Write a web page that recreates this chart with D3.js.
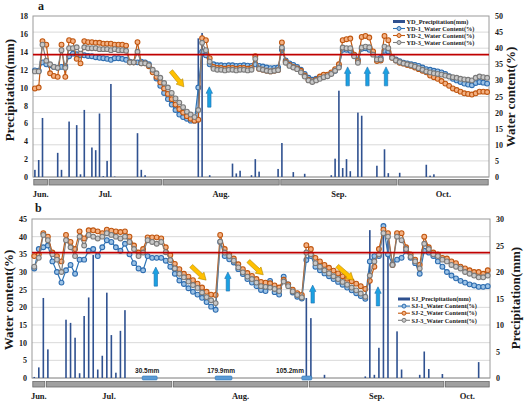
<!DOCTYPE html>
<html><head><meta charset="utf-8">
<script src="https://cdn.jsdelivr.net/npm/d3@7/dist/d3.min.js"></script>
<style>
html,body{margin:0;padding:0;background:#fff;}
svg{display:block;}
text{font-family:"Liberation Serif","Times New Roman",serif;font-weight:bold;fill:#1a1a1a;}
</style></head><body>
<svg id="chart" width="524" height="404"></svg>
<script>
// ---------------- DATA ----------------
const monthNames = ["Jun.","Jul.","Aug.","Sep.","Oct."];
const monthDaysA = [4,30,31,31,24];
const monthDaysB = [3,28,30,30,10];

const tickPrecA = [0,2,4,6,8,10,12,14,16,18];
const tickWcA = [0,5,10,15,20,25,30,35,40,45,50];
const tickWcB = [0,5,10,15,20,25,30,35,40,45];
const tickPrecB = [0,5,10,15,20,25,30];

const refLineA = 38;   // water content %
const refLineB = 35.5;

const precipA = [0.8,1.9,6.6,0,0,0,2.7,0.8,0,6.2,
 0,5.8,0.3,7.5,0,3.3,3.0,7.1,0.1,1.8,
 10.4,0.05,0,0,0,0,0,4.9,0.8,0.2,
 0,0,0,0,0,0,0,0,0,0,
 0,0,0,15.5,16.1,0,0.2,0,0,0,
 0,0,1.5,0.4,0.7,0,0,0.2,2.0,0.6,
 0,0,0,0,0.9,3.8,0,0,0.55,0,
 0,0.36,0,0,0,0,0,0,0.2,2.05,
 9.65,1.0,2.0,0.65,0,7.2,6.85,0,0,0,
 1.26,0,3.1,0.43,0,0,0.47,0,0,0,
 0,0,0,1.37,0.15,0.3,0,0,0,0,
 0,0,0,0,0,0,0,0,0,0];

const yd1 = [33.1,33.0,35.6,35.0,34.7,34.2,33.9,34.2,34.4,37.5,
 38.3,38.1,37.8,37.8,37.6,37.5,37.2,37.0,36.9,36.7,
 36.4,36.9,36.9,36.7,36.4,35.8,35.6,35.6,35.8,35.6,
 35.0,32.8,30.6,28.3,26.1,24.2,22.5,20.8,19.4,18.6,
 18.1,17.5,17.5,27.8,38.9,37.8,35.0,35.0,34.7,34.7,
 34.6,34.7,34.7,34.5,34.6,34.7,34.6,34.5,35.0,34.5,
 34.3,34.0,33.8,33.9,34.0,39.5,36.2,35.3,34.8,34.2,
 33.3,32.0,30.8,30.2,30.5,31.0,31.5,31.5,32.2,33.0,
 34.5,39.5,39.5,39.2,38.0,36.5,39.8,40.0,39.5,38.5,
 36.5,37.0,39.2,39.0,37.3,36.5,36.0,35.5,35.3,35.0,
 34.8,34.5,34.0,33.5,33.3,33.0,32.8,32.5,32.0,31.3,
 30.5,30.0,29.5,29.0,28.7,28.5,29.2,29.5,29.3,29.0];

const yd2 = [27.5,27.8,42.2,41.1,32.2,31.4,31.1,41.1,31.1,42.5,
 42.2,36.7,35.3,42.2,41.9,41.9,41.7,41.7,41.4,41.4,
 41.4,41.1,41.1,41.1,40.8,35.6,35.6,41.9,35.3,35.3,
 34.4,32.5,31.1,29.4,27.5,25.8,24.2,22.5,21.1,20.0,
 18.9,18.1,17.5,17.8,43.1,42.5,36.9,34.2,33.9,33.9,
 33.6,33.9,33.9,33.6,33.9,33.9,33.6,33.9,37.5,33.6,
 33.3,33.0,32.8,33.0,33.2,41.8,35.8,34.8,34.2,33.7,
 33.0,31.5,30.2,29.7,30.2,31.2,31.8,31.8,32.5,33.5,
 35.0,42.5,42.8,43.0,38.0,36.0,43.5,43.8,43.3,39.0,
 36.0,36.2,43.8,42.5,37.0,36.2,35.5,35.2,34.8,34.5,
 34.0,33.5,33.0,32.5,31.5,31.0,30.5,29.8,29.0,28.3,
 27.5,27.0,26.5,26.0,25.8,25.6,26.0,26.5,26.5,26.4];

const yd3 = [32.8,32.8,41.1,36.1,35.0,34.2,33.9,39.4,33.9,40.0,
 40.0,40.3,38.3,40.3,40.0,40.0,40.0,39.7,39.7,39.7,
 39.4,39.7,39.4,39.4,39.2,35.6,35.6,38.9,35.3,35.3,
 34.7,33.3,32.2,30.8,29.2,27.8,26.1,24.4,23.1,21.7,
 20.3,19.4,18.6,20.8,41.7,39.4,35.8,33.6,33.3,33.3,
 33.1,33.3,33.3,33.1,33.3,33.3,33.1,33.3,36.7,33.6,
 33.3,33.0,32.8,33.0,33.2,40.2,35.5,34.5,34.0,33.5,
 32.5,31.2,30.0,29.5,30.0,30.5,31.0,31.3,32.0,33.0,
 34.0,40.2,40.0,40.0,37.5,35.5,40.2,40.5,40.3,38.0,
 36.5,36.5,40.5,40.0,37.0,36.2,35.7,35.3,35.0,34.7,
 34.3,33.8,33.3,32.8,32.5,32.2,32.0,31.8,31.5,31.2,
 31.0,30.8,30.5,30.3,30.2,30.0,30.8,31.2,31.0,30.8];

const precipB = [0.2,2.0,15.1,5.4,0,0,0,11.0,10.4,7.6,
 0.9,11.7,15.2,23.2,1.6,4.2,16.1,8.1,1.0,8.9,
 12.8,0,0,0,0,0,0,0,0,0,
 0,0,0,0,0,0,0,0,0,0,
 0,0,0,0,0,0,0,0,0,0,
 0,0,0,0,0,0,0,0,0,0,
 15.1,11.3,0,0,0.6,0,0,0,0,0,
 0,0,0,0.3,27.9,0.6,5.7,28,26,0,
 8.8,1.6,0,0,0,0.6,5.0,1.7,0,0,
 0.75,0,0,0,0,0,0,0,3.0,0,
 0];

const sj1 = [31,36.5,37,37.5,33,30,27,30.5,32,29.5,
 33.5,33.5,36,36.5,34.5,37,39,38.5,37,36,
 38,35,32.5,31,30.5,34.5,34,34,34,33.2,
 31.5,29.5,27.6,26.6,25.4,24.4,23.6,22.7,21.5,20.2,
 19.3,38.5,34.5,33.6,32.7,30.8,29.4,28,27,26,
 24.9,24.6,27.5,24.3,23.6,28.7,26.5,24.2,23,22.5,
 33.4,34.5,31.5,30.5,29.6,28.8,28,27.2,26.4,25.6,
 24.8,24,23.2,22.4,33,34.5,34.5,43,35,32.2,
 33.5,34,36,34,32.5,29.5,36,35.5,34.5,33,
 31.5,30,29,28.2,27.5,27,26.5,26.2,25.8,25.8,
 26];

const sj2 = [34.5,35,41,40,35.5,34.5,33,40.5,38.5,36.5,
 41.5,39.5,41.8,41.8,41.5,41,42,41.7,41.5,41.3,
 41.5,40,37.5,35.5,36.5,39.8,39.8,39.8,39.5,37,
 34.8,32.3,30.8,29.5,28.7,27.7,26.7,25.6,24.4,23.6,
 23.5,40.5,36.5,35,33.8,32.2,30.8,29.7,28.9,28,
 27.2,27,26.8,26.2,25.6,27.8,26.5,25,24,23.5,
 37.6,36.5,34,33,32,31.2,30.4,29.6,28.8,28.1,
 27.4,26.7,26,25.2,27.5,31.5,36.5,42,41,32,
 41,41,37,35,33.5,32,40,37,35.5,35,
 34,33.8,33,32.5,31.5,31,30.5,30,30,29.5,
 30.5];

const sj3 = [31.5,34,40.5,39,35,33.5,30,39,37,34.5,
 40,37.5,40.5,40,39.5,40,41,40.5,40,39.5,
 40,38.5,36.5,34.5,35.5,39,38.5,38,38.5,35.6,
 33.4,31,29.5,28.5,27.3,26.3,25.5,24.2,22.9,22,
 21.2,38.6,35.5,34.5,33.2,31.3,29.9,28.7,28,27,
 26,25.8,25.6,25.2,24.6,27.3,26,24.5,23.5,22.8,
 35.5,35,32.5,31.5,30.5,29.6,28.8,28,27.2,26.4,
 25.6,24.8,23.9,23,29,33,35,41,40,32,
 40,39,36.5,34.3,33,31,38,36.5,35,34.5,
 33.5,33,32,31.5,31,30,29.5,29,28.5,28.5,
 29];

// annotation arrows (day index, water content %)
const upArrowsA = [{d:45.9,v0:21.7,v1:28.0},{d:82.3,v0:28.3,v1:34.2},{d:87.5,v0:28.3,v1:34.2},{d:92.4,v0:28.3,v1:34.2}];
const downArrowsA = [{d0:35.8,v0:32.9,d1:39.2,v1:28.0}];
const upArrowsB = [{d:26.8,v0:26.0,v1:31.4},{d:42.7,v0:24.6,v1:30.0},{d:61.4,v0:21.2,v1:26.3},{d:75.8,v0:20.4,v1:25.8}];
const downArrowsB = [{d0:34.6,v0:31.7,d1:37.9,v1:27.7},{d0:47.2,v0:33.1,d1:50.5,v1:29.2},{d0:66.8,v0:31.7,d1:70.4,v1:27.7}];
const notesB = [{label:"30.5mm",d0:24.3,d1:27.6,td:25.4},{label:"179.9mm",d0:40.4,d1:44.1,td:41.7},{label:"105.2mm",d0:59.5,d1:61.7,td:56.9}];

// ---------------- DRAW ----------------
const svg = d3.select("#chart");
const STY = {
  blue:  {line:"#2e75b6", fill:"#9dc3e6", stroke:"#2e6db0"},
  orange:{line:"#c55a11", fill:"#f4b183", stroke:"#c0560f"},
  gray:  {line:"#7f7f7f", fill:"#c9c9c9", stroke:"#7a7a7a"}
};
const BAR = "#2f5190";

function blockArrow(g, x1, y1, x2, y2, sw, hw, hl, fill, stroke) {
  const dx = x2-x1, dy = y2-y1, L = Math.hypot(dx,dy);
  const ux = dx/L, uy = dy/L, nx = -uy, ny = ux;
  const bx = x2-ux*hl, by = y2-uy*hl;
  const pts = [
    [x1+nx*sw/2, y1+ny*sw/2],[bx+nx*sw/2, by+ny*sw/2],[bx+nx*hw/2, by+ny*hw/2],
    [x2,y2],[bx-nx*hw/2, by-ny*hw/2],[bx-nx*sw/2, by-ny*sw/2],[x1-nx*sw/2, y1-ny*sw/2]];
  g.append("polygon").attr("points", pts.map(p=>p.join(",")).join(" "))
    .attr("fill", fill).attr("stroke", stroke).attr("stroke-width", 0.6);
}

function drawPanel(o) {
  const g = svg.append("g");
  const n = o.series[0].vals.length;
  const x = d3.scaleLinear().domain([0, n]).range([o.x0, o.x1]);
  const cx = i => x(i + 0.5);
  const yW = d3.scaleLinear().domain([0, o.wcMax]).range([o.yBot, o.yTop]);
  const yP = d3.scaleLinear().domain([0, o.pMax]).range([o.yBot, o.yTop]);

  // gridlines
  g.selectAll(".grid").data(o.wcTicks.filter(t => t > 0 && t < o.wcMax)).join("line")
    .attr("x1", o.x0).attr("x2", o.x1).attr("y1", d => yW(d)).attr("y2", d => yW(d))
    .attr("stroke", "#d9d9d9").attr("stroke-width", 1);
  g.append("line").attr("x1",o.x0).attr("x2",o.x1).attr("y1",yW(0)).attr("y2",yW(0))
    .attr("stroke","#bfbfbf");
  g.append("rect").attr("x", o.x0).attr("y", o.yTop).attr("width", o.x1-o.x0)
    .attr("height", o.yBot-o.yTop).attr("fill", "none").attr("stroke", "#9a9a9a").attr("stroke-width", 1);

  // precipitation bars
  g.selectAll(".bar").data(o.precip.map((v,i)=>({v,i})).filter(d=>d.v>0)).join("rect")
    .attr("x", d => cx(d.i)-0.8).attr("width", 1.6)
    .attr("y", d => yP(d.v)).attr("height", d => yP(0)-yP(d.v)).attr("fill", BAR);

  // water content series
  o.series.forEach(s => {
    const st = STY[s.c];
    const line = d3.line().x((d,i)=>cx(i)).y(d=>yW(d));
    g.append("path").datum(s.vals).attr("d", line).attr("fill","none")
      .attr("stroke", st.line).attr("stroke-width", 1.2);
    g.append("g").selectAll("circle").data(s.vals).join("circle")
      .attr("cx",(d,i)=>cx(i)).attr("cy",d=>yW(d)).attr("r",2.4)
      .attr("fill", st.fill).attr("stroke", st.stroke).attr("stroke-width", 1.1);
  });

  // reference line
  g.append("line").attr("x1",o.x0).attr("x2",o.x1).attr("y1",yW(o.ref)).attr("y2",yW(o.ref))
    .attr("stroke","#c00000").attr("stroke-width",1.8);

  // arrows
  o.up.forEach(a => blockArrow(g, cx(a.d), yW(a.v0), cx(a.d), yW(a.v1), 3.4, 6.4, 6.5, "#1ba1e2", "#1f6fae"));
  o.down.forEach(a => blockArrow(g, cx(a.d0), yW(a.v0), cx(a.d1), yW(a.v1), 4.2, 8.5, 7, "#ffc000", "#b38600"));

  // notes
  (o.notes||[]).forEach(t => {
    g.append("rect").attr("x", x(t.d0)).attr("y", yP(0)-2).attr("width", x(t.d1)-x(t.d0)).attr("height", 4)
      .attr("rx",1).attr("fill","#5b9bd5").attr("stroke","#2e75b6").attr("stroke-width",0.6);
    g.append("text").attr("x", x(t.td)).attr("y", yP(0)-5).attr("text-anchor","middle")
      .style("font-family","'Liberation Sans',Arial,sans-serif").style("font-size","6.5px").text(t.label);
  });

  // axes
  const leftScale = o.precipLeft ? yP : yW, rightScale = o.precipLeft ? yW : yP;
  const leftTicks = o.precipLeft ? o.pTicks : o.wcTicks, rightTicks = o.precipLeft ? o.wcTicks : o.pTicks;
  const la = g.append("g").attr("transform",`translate(${o.x0},0)`)
    .call(d3.axisLeft(leftScale).tickValues(leftTicks).tickSize(0).tickPadding(5).tickFormat(d3.format("d")));
  const ra = g.append("g").attr("transform",`translate(${o.x1},0)`)
    .call(d3.axisRight(rightScale).tickValues(rightTicks).tickSize(0).tickPadding(6).tickFormat(d3.format("d")));
  [la, ra].forEach(a => {
    a.select(".domain").remove();
    a.selectAll("text").style("font-size","8px").style("font-family","'Liberation Serif',serif").attr("fill","#1a1a1a");
  });

  // month band
  let start = 0;
  o.months.forEach((m, k) => {
    const end = start + o.monthDays[k];
    g.append("rect").attr("x", x(start)+0.8).attr("y", o.bandY).attr("width", x(end)-x(start)-1.6)
      .attr("height", 5.5).attr("fill", "#a0a0a0").attr("stroke", "#6a6a6a").attr("stroke-width", 0.8);
    g.append("text").attr("x", (x(start)+x(end))/2).attr("y", o.bandY+17).attr("text-anchor","middle")
      .style("font-size","8.5px").text(m);
    start = end;
  });

  // titles
  g.append("text").attr("transform",`translate(${o.lt.x},${o.lt.y}) rotate(-90)`).attr("text-anchor","middle")
    .style("font-size","13px").text(o.lt.t);
  g.append("text").attr("transform",`translate(${o.rt.x},${o.rt.y}) rotate(-90)`).attr("text-anchor","middle")
    .style("font-size","13px").text(o.rt.t);
  g.append("text").attr("x", o.lab.x).attr("y", o.lab.y).style("font-size","12px").text(o.lab.t);

  // legend
  const lg = g.append("g");
  o.legend.items.forEach((it, k) => {
    const y = o.legend.y + k*o.legend.dy;
    const x0 = o.legend.x;
    if (it.c === "bar") {
      lg.append("rect").attr("x", x0).attr("y", y-1.5).attr("width", 12).attr("height", 3).attr("fill", BAR);
    } else {
      const st = STY[it.c];
      lg.append("line").attr("x1", x0).attr("x2", x0+12).attr("y1", y).attr("y2", y).attr("stroke", st.line).attr("stroke-width",1.1);
      lg.append("circle").attr("cx", x0+6).attr("cy", y).attr("r", 2).attr("fill", st.fill).attr("stroke", st.stroke);
    }
    lg.append("text").attr("x", x0+13.5).attr("y", y+2.2).style("font-size","6.3px").text(it.t);
  });
}

drawPanel({
  x0:33, x1:489, yTop:16, yBot:177, wcMax:50, pMax:18, precipLeft:true,
  wcTicks:tickWcA, pTicks:tickPrecA, precip:precipA, ref:refLineA,
  series:[{vals:yd1,c:"blue"},{vals:yd2,c:"orange"},{vals:yd3,c:"gray"}],
  months:monthNames, monthDays:monthDaysA, bandY:179.5,
  up:upArrowsA, down:downArrowsA,
  lt:{x:14,y:90,t:"Precipitation(mm)"}, rt:{x:515,y:97,t:"Water content(%)"},
  lab:{x:38,y:10,t:"a"},
  legend:{x:393,y:21.5,dy:7,items:[
    {c:"bar",t:"YD_Precipitation(mm)"},{c:"blue",t:"YD-1_Water Content(%)"},
    {c:"orange",t:"YD-2_Water Content(%)"},{c:"gray",t:"YD-3_Water Content(%)"}]}
});

drawPanel({
  x0:32, x1:490, yTop:219, yBot:378, wcMax:45, pMax:30, precipLeft:false,
  wcTicks:tickWcB, pTicks:tickPrecB, precip:precipB, ref:refLineB,
  series:[{vals:sj1,c:"blue"},{vals:sj2,c:"orange"},{vals:sj3,c:"gray"}],
  months:monthNames, monthDays:monthDaysB, bandY:381.5,
  up:upArrowsB, down:downArrowsB, notes:notesB,
  lt:{x:13,y:300,t:"Water content(%)"}, rt:{x:520,y:298,t:"Precipitation(mm)"},
  lab:{x:35,y:212,t:"b"},
  legend:{x:398,y:299,dy:7.1,items:[
    {c:"bar",t:"SJ_Precipitation(mm)"},{c:"blue",t:"SJ-1_Water Content(%)"},
    {c:"orange",t:"SJ-2_Water Content(%)"},{c:"gray",t:"SJ-3_Water Content(%)"}]}
});
</script>
</body></html>
